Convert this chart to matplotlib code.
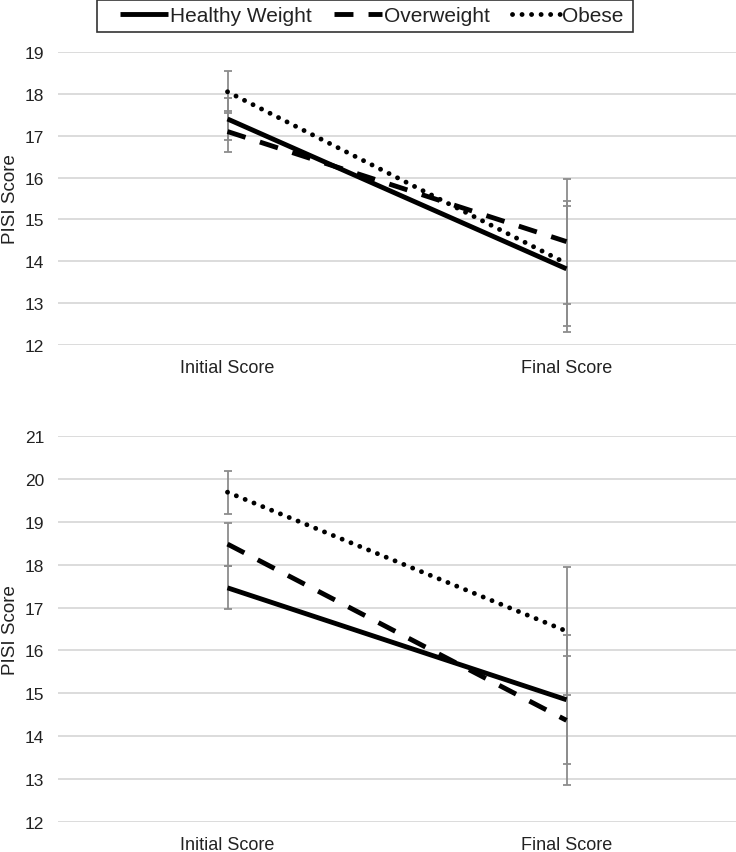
import numpy as np
import matplotlib
matplotlib.use("Agg")
from matplotlib import pyplot as plt
from matplotlib.lines import Line2D
from matplotlib.patches import Rectangle

plt.rcParams['font.family'] = ['Liberation Sans', 'DejaVu Sans']

categories = ['Initial Score', 'Final Score']
groups = ['Healthy Weight', 'Overweight', 'Obese']

# panneau du haut
top_means = {'Healthy Weight': [17.4, 13.82],
             'Overweight': [17.1, 14.47],
             'Obese': [18.05, 13.95]}
top_err = {'Healthy Weight': [0.5, 1.5],
           'Overweight': [0.5, 1.5],
           'Obese': [0.5, 1.5]}

# panneau du bas
bot_means = {'Healthy Weight': [17.46, 14.85],
             'Overweight': [18.48, 14.37],
             'Obese': [19.69, 16.45]}
bot_err = {'Healthy Weight': [0.5, 1.5],
           'Overweight': [0.5, 1.5],
           'Obese': [0.5, 1.5]}

top_ticks = [12, 13, 14, 15, 16, 17, 18, 19]
bot_ticks = [12, 13, 14, 15, 16, 17, 18, 19, 20, 21]

styles = {'Healthy Weight': dict(linestyle='-', solid_capstyle='butt'),
          'Overweight': dict(linestyle=(0, (3.9, 3.1)), dash_capstyle='butt'),
          'Obese': dict(linestyle=(0, (0.01, 1.95)), dash_capstyle='round')}
LW = 3.5

fig = plt.figure(figsize=(7.36, 8.53), dpi=100)
ax1 = fig.add_axes([58/736, 1-346/853, 678/736, 293/853])
ax2 = fig.add_axes([58/736, 1-823/853, 678/736, 386/853])

x = np.arange(len(categories))

def trace(ax, means, err, ticks):
    for g in groups:
        ax.errorbar(x, means[g], yerr=err[g], fmt='none', ecolor='#8c8c8c',
                    elinewidth=1.3, capsize=3, capthick=1.3, zorder=2)
    for g in groups:
        ax.plot(x, means[g], color='black', lw=LW, zorder=3, **styles[g])
    ax.set_xlim(-0.5, 1.5)
    ax.set_ylim(ticks[0], ticks[-1])
    ax.set_yticks(ticks)
    ax.set_xticks(x)
    ax.set_xticklabels(categories)
    ax.grid(axis='y', color='#d9d9d9', lw=1.3)
    ax.set_axisbelow(True)
    for s in ax.spines.values():
        s.set_visible(False)
    ax.tick_params(axis='both', length=0, colors='#222222')
    ax.tick_params(axis='y', pad=10, labelsize=12.5)
    ax.tick_params(axis='x', pad=10, labelsize=13)
    ax.set_ylabel('PISI Score', fontsize=13.5, color='#222222')
    ax.yaxis.set_label_coords(-0.057, 0.5)

trace(ax1, top_means, top_err, top_ticks)
trace(ax2, bot_means, bot_err, bot_ticks)

handles = [Line2D([], [], color='black', lw=LW, **styles[g]) for g in groups]
leg = fig.legend(handles, groups, loc='center', bbox_to_anchor=(0.505, 1-17/853),
                 ncol=3, frameon=False, fontsize=15,
                 handlelength=2.3, handletextpad=0.1, columnspacing=1.05,
                 borderpad=0.2)
for t in leg.get_texts():
    t.set_color('#222222')
# cadre de la légende
fig.patches.append(Rectangle((97/736, 1-33/853), 536/736, 32/853,
                             transform=fig.transFigure, fill=False,
                             edgecolor='#333333', lw=1.2))

plt.savefig('out.png', dpi=100)
